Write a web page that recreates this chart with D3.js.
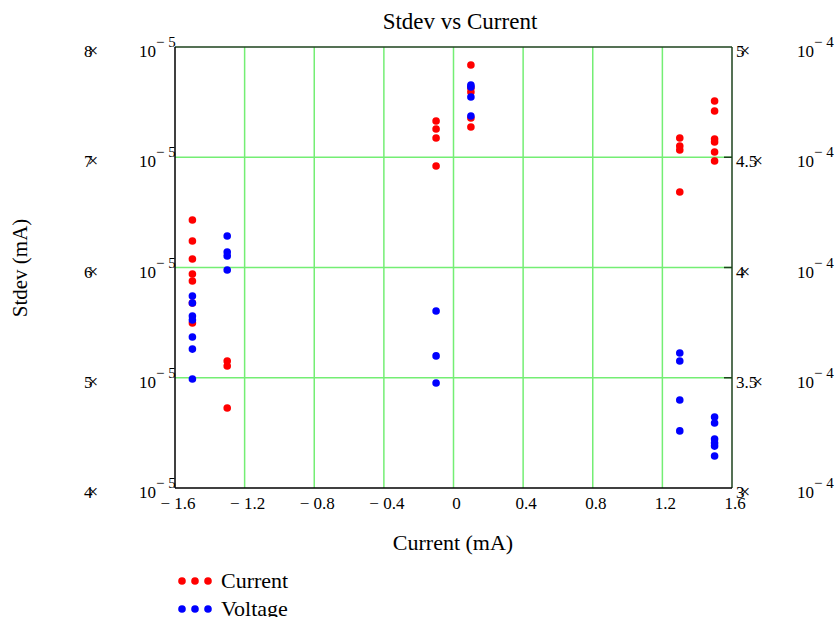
<!DOCTYPE html>
<html>
<head>
<meta charset="utf-8">
<script src="https://cdn.jsdelivr.net/npm/d3@7"></script>
<style>
  html, body { margin: 0; padding: 0; background: #fff; }
  text { font-family: "Liberation Serif", "Times New Roman", serif; fill: #000; }
</style>
</head>
<body>
<svg id="chart" width="837" height="617"></svg>
<script>
// Current setpoints (mA)
const xTicks = [-1.6, -1.2, -0.8, -0.4, 0, 0.4, 0.8, 1.2, 1.6];
const xTickLabels = ["\u2212 1.6", "\u2212 1.2", "\u2212 0.8", "\u2212 0.4", "0", "0.4", "0.8", "1.2", "1.6"];

// Left axis (Current stdev), mantissas of 10^-5
const leftTicks = [4, 5, 6, 7, 8];
const leftTickLabels = ["4", "5", "6", "7", "8"];
// Right axis (Voltage stdev), mantissas of 10^-4
const rightTicks = [3, 3.5, 4, 4.5, 5];
const rightTickLabels = ["3", "3.5", "4", "4.5", "5"];

// Current series: x (mA), stdev in units of 1e-5
const currentX = [
  -1.5, -1.5, -1.5, -1.5, -1.5, -1.5, -1.5,
  -1.3, -1.3, -1.3,
  -0.1, -0.1, -0.1, -0.1,
  0.1, 0.1, 0.1, 0.1, 0.1,
  1.3, 1.3, 1.3, 1.3,
  1.5, 1.5, 1.5, 1.5, 1.5, 1.5
];
const currentY = [
  6.431, 6.240, 6.077, 5.941, 5.878, 5.678, 5.497,
  5.152, 5.107, 4.726,
  7.329, 7.256, 7.175, 6.921,
  7.837, 7.628, 7.592, 7.356, 7.274,
  7.175, 7.102, 7.066, 6.685,
  7.510, 7.420, 7.166, 7.138, 7.048, 6.966
];

// Voltage series: x (mA), stdev in units of 1e-4
const voltageX = [
  -1.5, -1.5, -1.5, -1.5, -1.5, -1.5, -1.5,
  -1.3, -1.3, -1.3, -1.3,
  -0.1, -0.1, -0.1,
  0.1, 0.1, 0.1, 0.1,
  1.3, 1.3, 1.3, 1.3,
  1.5, 1.5, 1.5, 1.5, 1.5, 1.5
];
const voltageY = [
  3.871, 3.839, 3.780, 3.762, 3.685, 3.630, 3.494,
  4.143, 4.070, 4.052, 3.989,
  3.803, 3.599, 3.476,
  4.828, 4.819, 4.773, 4.687,
  3.612, 3.576, 3.399, 3.259,
  3.322, 3.295, 3.222, 3.204, 3.190, 3.145
];

const legendNames = ["Current", "Voltage"];
const colors = ["#ff0000", "#0000ff"];

const svg = d3.select("#chart");
const plot = { left: 175, right: 732, top: 47, bottom: 488 };

const x = d3.scaleLinear().domain([-1.6, 1.6]).range([plot.left, plot.right]);
const yL = d3.scaleLinear().domain([4, 8]).range([plot.bottom, plot.top]);
const yR = d3.scaleLinear().domain([3, 5]).range([plot.bottom, plot.top]);

const gridColor = "#74ee74";
const frameColor = "#1c421c";

// grid
const grid = svg.append("g");
grid.selectAll("line.vx").data(xTicks.slice(1, -1)).enter().append("line")
  .attr("x1", d => x(d)).attr("x2", d => x(d))
  .attr("y1", plot.top).attr("y2", plot.bottom)
  .attr("stroke", gridColor).attr("stroke-width", 1.5);
grid.selectAll("line.hy").data(leftTicks.slice(1, -1)).enter().append("line")
  .attr("x1", plot.left).attr("x2", plot.right)
  .attr("y1", d => yL(d)).attr("y2", d => yL(d))
  .attr("stroke", gridColor).attr("stroke-width", 1.5);

// frame: top and right in dark green, left and bottom in black
svg.append("line").attr("x1", plot.left).attr("x2", plot.right)
  .attr("y1", plot.top).attr("y2", plot.top).attr("stroke", frameColor).attr("stroke-width", 1.5);
svg.append("line").attr("x1", plot.right).attr("x2", plot.right)
  .attr("y1", plot.top).attr("y2", plot.bottom).attr("stroke", frameColor).attr("stroke-width", 1.5);
svg.append("line").attr("x1", plot.left).attr("x2", plot.left)
  .attr("y1", plot.top).attr("y2", plot.bottom).attr("stroke", "#000").attr("stroke-width", 1.5);
svg.append("line").attr("x1", plot.left).attr("x2", plot.right)
  .attr("y1", plot.bottom).attr("y2", plot.bottom).attr("stroke", "#000").attr("stroke-width", 1.5);

// right axis inner ticks
svg.selectAll("line.rt").data(rightTicks.slice(1, -1)).enter().append("line")
  .attr("x1", plot.right - 8).attr("x2", plot.right)
  .attr("y1", d => yR(d)).attr("y2", d => yR(d))
  .attr("stroke", frameColor).attr("stroke-width", 1.5);

// x tick labels
svg.append("g").selectAll("text").data(xTicks).enter().append("text")
  .attr("x", d => x(d) + 3).attr("y", 509)
  .attr("text-anchor", "middle").attr("font-size", 17)
  .text((d, i) => xTickLabels[i]);

// mantissa with an overlapping multiplication mark, followed by a power of ten
function sciLabel(g, xm, xp, y, mant, exp) {
  const t = g.append("text").attr("x", xm).attr("y", y + 10).attr("font-size", 17);
  t.append("tspan").text(mant);
  t.append("tspan").attr("dx", -5).attr("font-size", 19).text("\u00d7");
  const p = g.append("text").attr("x", xp).attr("y", y + 10).attr("font-size", 17);
  p.append("tspan").text("10");
  p.append("tspan").attr("dy", -10).attr("font-size", 15).text("\u2212 " + exp);
}

const leftLabels = svg.append("g");
leftTicks.forEach((d, i) => sciLabel(leftLabels, 84, 139, yL(d), leftTickLabels[i], 5));

const rightLabels = svg.append("g");
rightTicks.forEach((d, i) => sciLabel(rightLabels, 736, 797, yR(d), rightTickLabels[i], 4));

// points
const currentPts = currentX.map((v, i) => [v, currentY[i]]);
const voltagePts = voltageX.map((v, i) => [v, voltageY[i]]);

svg.append("g").selectAll("circle").data(currentPts).enter().append("circle")
  .attr("cx", d => x(d[0])).attr("cy", d => yL(d[1])).attr("r", 3.8)
  .attr("fill", colors[0]);
svg.append("g").selectAll("circle").data(voltagePts).enter().append("circle")
  .attr("cx", d => x(d[0])).attr("cy", d => yR(d[1])).attr("r", 3.8)
  .attr("fill", colors[1]);

// titles
svg.append("text").attr("x", 460).attr("y", 29).attr("text-anchor", "middle")
  .attr("font-size", 23).text("Stdev vs Current");
svg.append("text").attr("x", 453).attr("y", 550).attr("text-anchor", "middle")
  .attr("font-size", 22).text("Current (mA)");
svg.append("text").attr("transform", "translate(27,268) rotate(-90)")
  .attr("text-anchor", "middle").attr("font-size", 21).text("Stdev (mA)");

// legend
const legend = svg.append("g");
legendNames.forEach((name, i) => {
  const ly = 581 + i * 28;
  [182, 195, 208].forEach(cx => legend.append("circle")
    .attr("cx", cx).attr("cy", ly).attr("r", 3.8).attr("fill", colors[i]));
  legend.append("text").attr("x", 221).attr("y", ly + 7).attr("font-size", 22).text(name);
});
</script>
</body>
</html>
